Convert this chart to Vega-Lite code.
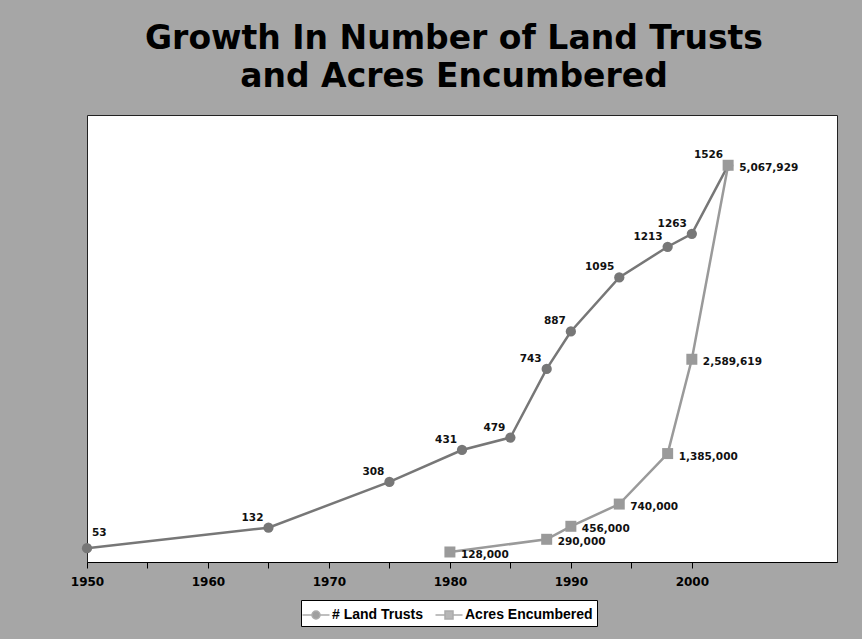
{
  "$schema": "https://vega.github.io/schema/vega-lite/v6.json",
  "autosize": {"type": "none"},
  "width": 750,
  "height": 447,
  "padding": {"left": 87, "top": 115, "right": 25, "bottom": 77},
  "background": "#a6a6a6",
  "title": {
    "text": ["Growth In Number of Land Trusts", "and Acres Encumbered"],
    "font": "DejaVu Sans",
    "fontSize": 33,
    "fontWeight": "bold",
    "color": "black",
    "anchor": "middle",
    "frame": "group",
    "offset": 21,
    "lineHeight": 38,
    "dx": -8
  },
  "config": {
    "view": {"fill": "white", "stroke": "#222222", "strokeWidth": 1}
  },
  "data": {
    "values": [
      {"year": 1950, "series": "# Land Trusts", "value": 53},
      {"year": 1965, "series": "# Land Trusts", "value": 132},
      {"year": 1975, "series": "# Land Trusts", "value": 308},
      {"year": 1981, "series": "# Land Trusts", "value": 431},
      {"year": 1985, "series": "# Land Trusts", "value": 479},
      {"year": 1988, "series": "# Land Trusts", "value": 743},
      {"year": 1990, "series": "# Land Trusts", "value": 887},
      {"year": 1994, "series": "# Land Trusts", "value": 1095},
      {"year": 1998, "series": "# Land Trusts", "value": 1213},
      {"year": 2000, "series": "# Land Trusts", "value": 1263},
      {"year": 2003, "series": "# Land Trusts", "value": 1526},
      {"year": 1980, "series": "Acres Encumbered", "value": 128000},
      {"year": 1988, "series": "Acres Encumbered", "value": 290000},
      {"year": 1990, "series": "Acres Encumbered", "value": 456000},
      {"year": 1994, "series": "Acres Encumbered", "value": 740000},
      {"year": 1998, "series": "Acres Encumbered", "value": 1385000},
      {"year": 2000, "series": "Acres Encumbered", "value": 2589619},
      {"year": 2003, "series": "Acres Encumbered", "value": 5067929}
    ]
  },
  "encoding": {
    "x": {
      "field": "year",
      "type": "quantitative",
      "scale": {"domain": [1950, 2012], "nice": false, "zero": false},
      "axis": {
        "values": [1950, 1955, 1960, 1965, 1970, 1975, 1980, 1985, 1990, 1995, 2000],
        "format": "d",
        "labelExpr": "datum.value % 10 === 0 ? datum.label : ''",
        "title": null,
        "grid": false,
        "domainColor": "black",
        "tickColor": "black",
        "tickSize": 6,
        "labelFont": "DejaVu Sans",
        "labelFontSize": 12,
        "labelFontWeight": "bold",
        "labelColor": "black",
        "labelPadding": 8,
        "labelFlush": false,
        "labelOverlap": false
      }
    }
  },
  "layer": [
    {
      "transform": [{"filter": "datum.series === '# Land Trusts'"}],
      "encoding": {
        "y": {"field": "value", "type": "quantitative", "scale": {"domain": [0, 1720], "nice": false}, "axis": null}
      },
      "layer": [
        {"mark": {"type": "line", "strokeWidth": 2.5, "color": "#777777"}},
        {"mark": {"type": "point", "shape": "circle", "filled": true, "size": 105, "opacity": 1, "color": "#777777"}},
        {
          "transform": [{"filter": "datum.year > 1950"}],
          "mark": {"type": "text", "align": "right", "baseline": "middle", "dx": -5, "dy": -10, "font": "DejaVu Sans", "fontSize": 10.5, "fontWeight": "bold", "color": "#111111"},
          "encoding": {"text": {"field": "value", "type": "quantitative", "format": "d"}}
        },
        {
          "transform": [{"filter": "datum.year == 1950"}],
          "mark": {"type": "text", "align": "left", "baseline": "middle", "dx": 5, "dy": -15, "font": "DejaVu Sans", "fontSize": 10.5, "fontWeight": "bold", "color": "#111111"},
          "encoding": {"text": {"field": "value", "type": "quantitative", "format": "d"}}
        }
      ]
    },
    {
      "transform": [{"filter": "datum.series === 'Acres Encumbered'"}],
      "encoding": {
        "y": {"field": "value", "type": "quantitative", "scale": {"domain": [0, 5710000], "nice": false}, "axis": null}
      },
      "layer": [
        {"mark": {"type": "line", "strokeWidth": 2.5, "color": "#9a9a9a"}},
        {"mark": {"type": "point", "shape": "square", "filled": true, "size": 121, "opacity": 1, "color": "#9a9a9a"}},
        {
          "mark": {"type": "text", "align": "left", "baseline": "middle", "dx": 11, "dy": 3, "font": "DejaVu Sans", "fontSize": 10.5, "fontWeight": "bold", "color": "#111111"},
          "encoding": {"text": {"field": "value", "type": "quantitative", "format": ",d"}}
        },
        {
          "transform": [{"filter": "datum.year > 3000"}],
          "mark": {"type": "point", "filled": true},
          "encoding": {
            "shape": {
              "field": "series",
              "type": "nominal",
              "scale": {
                "domain": ["# Land Trusts", "Acres Encumbered"],
                "range": [
                  "M-1.35,0H-0.4M0.4,0H1.35M-0.4,0A0.4,0.4 0 1,1 0.4,0A0.4,0.4 0 1,1 -0.4,0Z",
                  "M-1.35,0H-0.4M0.4,0H1.35M-0.4,-0.4H0.4V0.4H-0.4Z"
                ]
              },
              "legend": {
                "title": null, "orient": "none", "legendX": 214, "legendY": 485, "direction": "horizontal",
                "fillColor": "white", "strokeColor": "black", "padding": 4,
                "labelFont": "Liberation Sans", "labelFontSize": 14, "labelFontWeight": "bold", "labelColor": "black",
                "symbolSize": 400, "symbolStrokeColor": "#888888", "symbolStrokeWidth": 1.5,
                "columnPadding": 8, "labelOffset": 5,
                "encode": {"symbols": {"update": {"stroke": {"value": "#888888"}, "strokeWidth": {"value": 1.5}}}}
              }
            },
            "color": {
              "field": "series",
              "type": "nominal",
              "scale": {"domain": ["# Land Trusts", "Acres Encumbered"], "range": ["#777777", "#9a9a9a"]},
              "legend": {
                "title": null, "orient": "none", "legendX": 214, "legendY": 485, "direction": "horizontal",
                "fillColor": "white", "strokeColor": "black", "padding": 4,
                "labelFont": "Liberation Sans", "labelFontSize": 14, "labelFontWeight": "bold", "labelColor": "black",
                "symbolSize": 400, "symbolStrokeColor": "#888888", "symbolStrokeWidth": 1.5,
                "columnPadding": 8, "labelOffset": 5,
                "encode": {"symbols": {"update": {"stroke": {"value": "#888888"}, "strokeWidth": {"value": 1.5}}}}
              }
            }
          }
        }
      ]
    }
  ],
  "resolve": {"scale": {"y": "independent"}}
}
